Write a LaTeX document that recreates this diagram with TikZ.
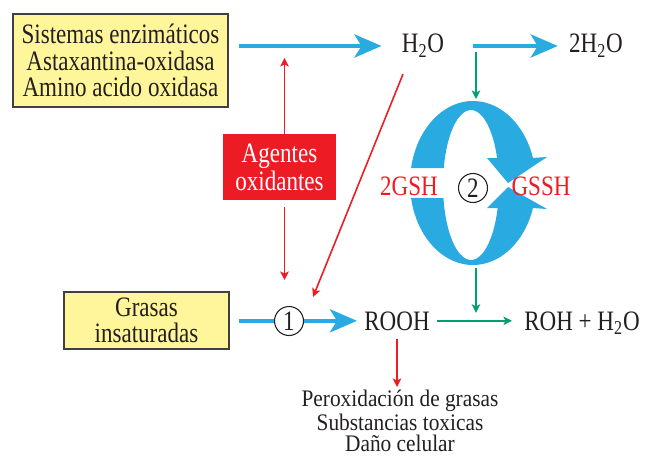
\documentclass[tikz,border=0pt]{standalone}
\usepackage{fontspec}
\setmainfont{Liberation Serif}[FakeStretch=0.82]
\usepackage{tikz}
\usetikzlibrary{arrows.meta,calc}
\definecolor{azul}{HTML}{29ABE2}
\definecolor{rojo}{HTML}{ED1C24}
\definecolor{verde}{HTML}{00A071}
\definecolor{amarillo}{HTML}{FFF59A}
\definecolor{tinta}{HTML}{231F20}

\begin{document}
\begin{tikzpicture}[x=0.02cm,y=-0.02cm]
  \tikzset{texto/.style = {inner sep=0pt, text=tinta, align=center, font=\fontsize{16}{15}\selectfont}}
  \tikzset{caja/.style = {texto, draw=black!75, line width=0.6pt, fill=amarillo}}
  \tikzset{num/.style = {texto, circle, draw=tinta, fill=white, line width=0.6pt, minimum size=0.58cm}}
  \tikzset{flechaazul/.style = {draw=azul, line width=2.6pt, -{Stealth[length=0.54cm, width=0.46cm, inset=0.14cm]}}}
  \tikzset{flecharoja/.style = {draw=rojo, line width=0.9pt, -{Stealth[length=1.7mm, width=1.7mm, inset=0.4mm]}}}
  \tikzset{flechaverde/.style = {flecharoja, draw=verde}}

\useasboundingbox (0,0) rectangle (645,456);

\node[caja, minimum width=4.3cm, minimum height=1.86cm] (enz) at (120.5,60.5) {Sistemas enzimáticos\\Astaxantina-oxidasa\\Amino acido oxidasa};
\node[texto, anchor=base] (h2o) at (423,53) {H\textsubscript{2}O};
\node[texto, anchor=base] (dosh2o) at (596,53) {2H\textsubscript{2}O};
\node[texto, fill=rojo, text=white, font=\fontsize{16}{16}\selectfont, minimum width=2.26cm, minimum height=1.32cm] (agentes) at (279.5,167) {Agentes\\oxidantes};
\node[caja, minimum width=3.3cm, minimum height=1.14cm] (grasas) at (146.5,320.5) {Grasas\\insaturadas};
\node[texto, anchor=base] (rooh) at (397,330) {ROOH};
\node[texto, anchor=base] (rohh2o) at (582,330) {ROH + H\textsubscript{2}O};
\node[texto, anchor=north, font=\fontsize{13.5}{12}\selectfont\addfontfeatures{FakeStretch=0.9}] (efectos) at (400,390) {Peroxidación de grasas\\Substancias toxicas\\Daño celular};

% ciclo del glutation
\coordinate (co) at (473,183);
\coordinate (ci) at (471,185);
\fill[azul] ($(co)+(169.5:1.26cm and 1.64cm)$) arc[start angle=169.5, end angle=17.8, x radius=1.26cm, y radius=1.64cm]
  -- (547,157) -- (508,183) -- (487,158)
  -- ($(ci)+(21.1:0.56cm and 1.5cm)$) arc[start angle=21.1, end angle=166.9, x radius=0.56cm, y radius=1.5cm] -- cycle;
\fill[azul] ($(co)+(190.5:1.26cm and 1.64cm)$) arc[start angle=190.5, end angle=342.2, x radius=1.26cm, y radius=1.64cm]
  -- (547,209) -- (508,187) -- (487,208)
  -- ($(ci)+(342.1:0.56cm and 1.5cm)$) arc[start angle=342.1, end angle=190, x radius=0.56cm, y radius=1.5cm] -- cycle;
\node[texto, anchor=base, text=rojo] (gsh) at (409,195) {2GSH};
\node[texto, anchor=base, text=rojo] (gssh) at (541,195) {GSSH};
\node[num] (dos) at (473,188) {2};
\coordinate (g1) at (476,52);
\coordinate (ctop) at (476,99);
\coordinate (cbot) at (476,268);

  \path (enz.east |- h2o.west) edge[flechaazul, shorten <=0.2cm, shorten >=0.4cm] (h2o.west);
  \path (h2o.east) edge[flechaazul, shorten <=0.58cm, shorten >=0.22cm] (dosh2o.west);
  \path (grasas.east |- rooh.west) edge[flechaazul, shorten <=0.18cm, shorten >=0.14cm] (rooh.west);
\node[num] (uno) at (289,321) {1};

    \path ([xshift=0.1cm]agentes.north) edge[flecharoja, shorten >=0.24cm] ([xshift=0.1cm]agentes.north |- h2o.west);
    \path ([xshift=0.1cm]agentes.south) edge[flecharoja, shorten <=0.14cm, shorten >=0.52cm] ([xshift=0.1cm]agentes.south |- uno.north);
    \path ([xshift=0.16cm]h2o.south west) edge[flecharoja, shorten <=0.35cm, shorten >=0.29cm] ([xshift=0.16cm]uno.north east);
    \path (rooh.south) edge[flecharoja, shorten <=0.16cm, shorten >=0.06cm] (rooh.south |- efectos.north);
%    \path (rooh.south) edge[flecharoja] (efectos);

      \path (g1) edge[flechaverde] (ctop);
      \path (cbot) edge[flechaverde, shorten >=0.16cm] (cbot |- rooh.east);
      \path (rooh.east) edge[flechaverde, shorten <=0.14cm, shorten >=0.24cm] (rooh.east -| rohh2o.west);

\end{tikzpicture}
\end{document}
